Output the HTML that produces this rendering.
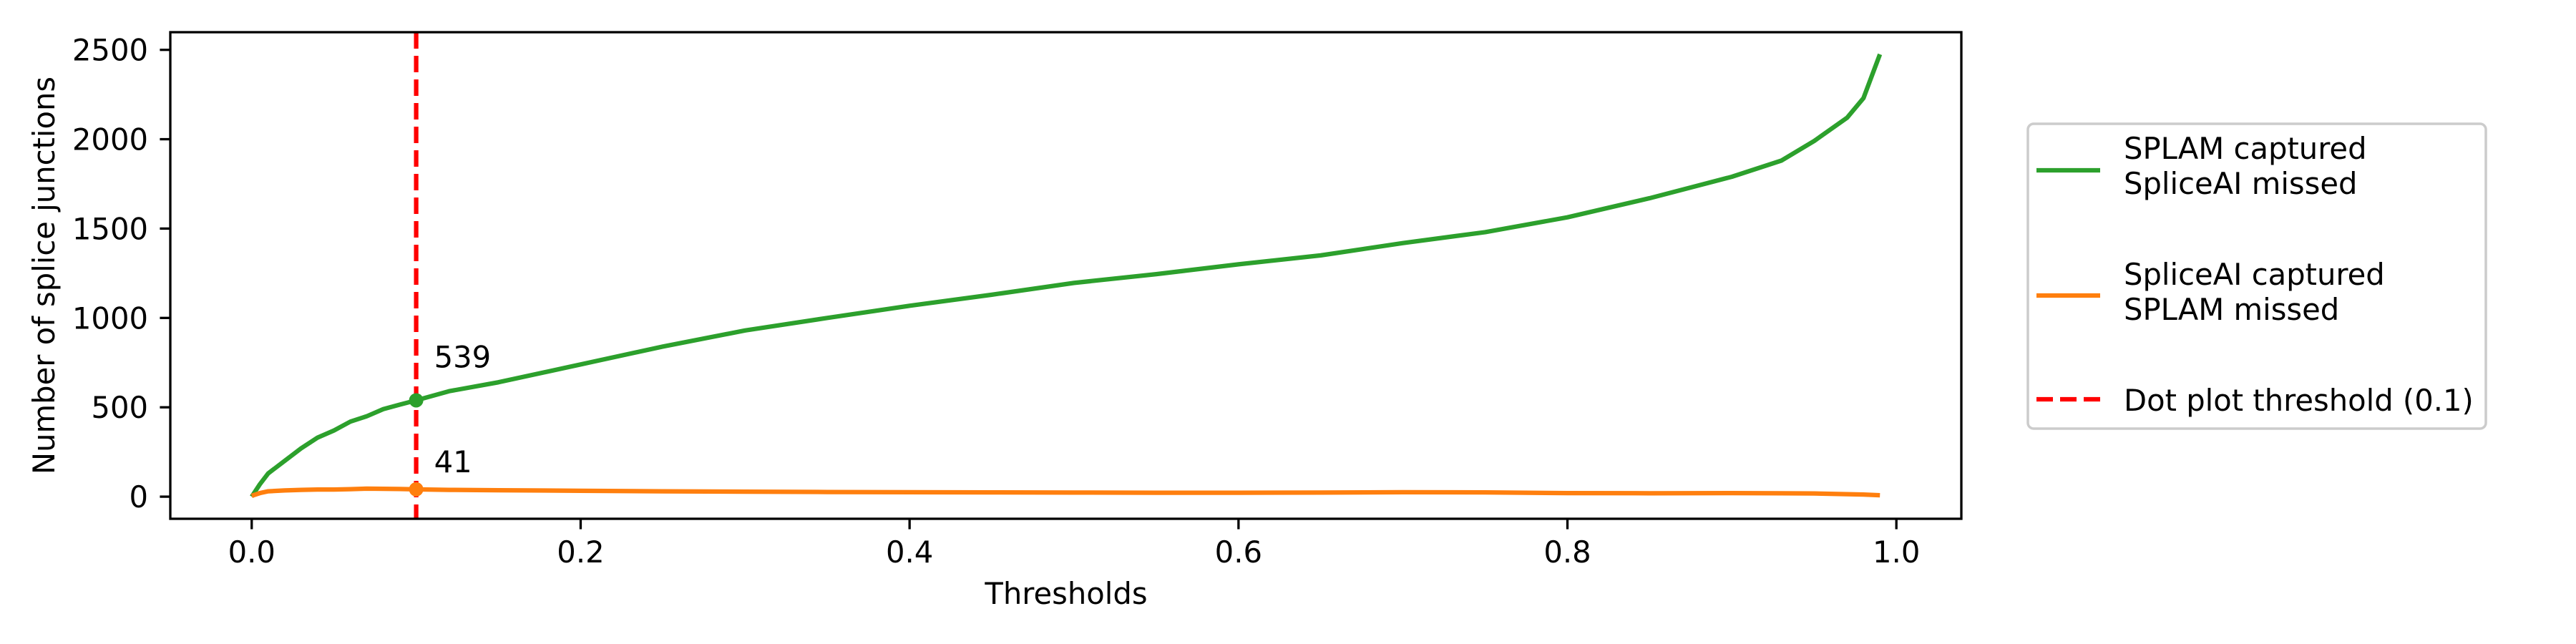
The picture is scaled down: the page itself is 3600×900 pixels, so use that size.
<!DOCTYPE html>
<html><head><meta charset="utf-8">
<style>
html,body{margin:0;padding:0;background:#fff;}
svg{display:block;font-family:"DejaVu Sans","Liberation Sans",sans-serif;}
</style></head>
<body>
<svg id="chart" width="3600" height="900" viewBox="0 0 3600 900" xmlns="http://www.w3.org/2000/svg">
<rect width="3600" height="900" fill="#fff"/>
<g id="plot"></g>
<g id="axes"></g>
<g>
 <rect x="2834" y="173" width="640" height="426" rx="8" fill="#fff" stroke="#cccccc" stroke-width="3.5"/>
 <line x1="2846" y1="238" x2="2935" y2="238" stroke="#2ca02c" stroke-width="6.25"/>
 <text x="2968" y="222" font-size="41.7">SPLAM captured</text>
 <text x="2968" y="271" font-size="41.7">SpliceAI missed</text>
 <line x1="2846" y1="413" x2="2935" y2="413" stroke="#ff7f0e" stroke-width="6.25"/>
 <text x="2968" y="398" font-size="41.7">SpliceAI captured</text>
 <text x="2968" y="447" font-size="41.7">SPLAM missed</text>
 <line x1="2846" y1="558" x2="2935" y2="558" stroke="#ff0000" stroke-width="6.25" stroke-dasharray="23,10"/>
 <text x="2968" y="574" font-size="41.7">Dot plot threshold (0.1)</text>
</g>
</svg>
<script>
const thresholds = [0,0.005,0.01,0.02,0.03,0.04,0.05,0.06,0.07,0.08,0.09,0.1,0.12,0.15,0.2,0.25,0.3,0.35,0.4,0.45,0.5,0.55,0.6,0.65,0.7,0.75,0.8,0.85,0.9,0.93,0.95,0.97,0.98,0.99];
const splamMissed = [0,70,130,200,270,330,370,420,450,490,515,539,590,640,740,840,930,1000,1068,1130,1196,1245,1300,1350,1419,1480,1563,1670,1790,1880,1990,2120,2230,2475];
const spliceMissed = [5,20,30,35,38,40,40,42,45,44,43,41,38,36,33,30,28,26,25,24,23,22,22,23,25,24,20,19,20,19,18,14,12,8];
const xTicks = [0,0.2,0.4,0.6,0.8,1.0];
const xTickLabels = ["0.0","0.2","0.4","0.6","0.8","1.0"];
const yTicks = [0,500,1000,1500,2000,2500];
const yTickLabels = ["0","500","1000","1500","2000","2500"];
const markerX = 0.1;
const markerValues = [539, 41];

const L=238,R=2741,T=45,B=725;
const xMin=-0.0495,xMax=1.0395,yMin=-123.75,yMax=2598.75;
const sx=v=>L+(v-xMin)/(xMax-xMin)*(R-L);
const sy=v=>B-(v-yMin)/(yMax-yMin)*(B-T);
const NS="http://www.w3.org/2000/svg";
const plot=document.getElementById('plot'), axes=document.getElementById('axes');
function mk(tag,attrs,parent){const e=document.createElementNS(NS,tag);for(const k in attrs)e.setAttribute(k,attrs[k]);parent.appendChild(e);return e;}

const cp=mk('clipPath',{id:'clip'},plot);mk('rect',{x:L,y:T,width:R-L,height:B-T},cp);
const g=mk('g',{'clip-path':'url(#clip)'},plot);

function line(ys,color,name){
  const p=mk('polyline',{points:thresholds.map((t,i)=>sx(t)+','+sy(ys[i])).join(' '),fill:'none',stroke:color,'stroke-width':6.25,'stroke-linejoin':'round'},g);
  
  
}
line(splamMissed,'#2ca02c','splam-line');
line(spliceMissed,'#ff7f0e','spliceai-line');

const vl=mk('line',{x1:sx(markerX),x2:sx(markerX),y1:T,y2:B,stroke:'#ff0000','stroke-width':6.25,'stroke-dasharray':'23,10'},g);



const mcolors=['#2ca02c','#ff7f0e'];
markerValues.forEach((v,i)=>{
  const c=mk('circle',{cx:sx(markerX),cy:sy(v),r:10,fill:mcolors[i]},plot);
  
  
  const t=mk('text',{x:sx(markerX)+25,y:sy(v)-(i==0?46:24),'font-size':41.7},plot);
  t.textContent=String(v);
  
  
});

const frame=mk('rect',{x:L,y:T,width:R-L,height:B-T,fill:'none',stroke:'#000','stroke-width':3.3},axes);



xTicks.forEach((v,i)=>{
  mk('line',{x1:sx(v),x2:sx(v),y1:B,y2:B+14.6,stroke:'#000','stroke-width':3.3},axes);
  const t=mk('text',{x:sx(v),y:786,'font-size':41.7,'text-anchor':'middle'},axes);
  t.textContent=xTickLabels[i];
  
  
});
yTicks.forEach((v,i)=>{
  mk('line',{x1:L,x2:L-14.6,y1:sy(v),y2:sy(v),stroke:'#000','stroke-width':3.3},axes);
  const t=mk('text',{x:207,y:sy(v)+15,'font-size':41.7,'text-anchor':'end'},axes);
  t.textContent=yTickLabels[i];
  
  
});
const xt=mk('text',{x:1490,y:844,'font-size':41.7,'text-anchor':'middle'},axes);
xt.textContent='Thresholds';


const yt=mk('text',{x:0,y:0,'font-size':41.7,'text-anchor':'middle',transform:'translate(76,385) rotate(-90)'},axes);
yt.textContent='Number of splice junctions';


</script>
</body></html>
